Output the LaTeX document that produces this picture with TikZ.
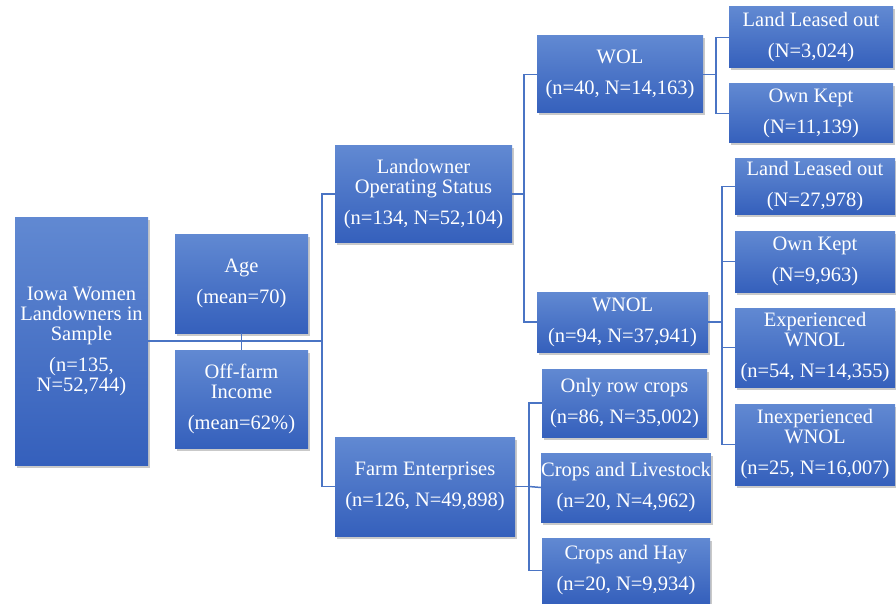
\documentclass[tikz,border=0pt]{standalone}
\usepackage{fontspec}
\setmainfont{Liberation Serif}
\usetikzlibrary{shadows}
\definecolor{boxtop}{HTML}{6189D2}
\definecolor{boxbot}{HTML}{3560BC}
\definecolor{linec}{HTML}{4A74C4}
\tikzset{
  box/.style={draw=none, top color=boxtop, bottom color=boxbot, text=white,
    align=center, inner sep=0pt,
    font=\fontsize{20.5}{20}\selectfont,
    drop shadow={shadow xshift=2pt, shadow yshift=-2.5pt, opacity=0.35, fill=black!60}},
  conn/.style={draw=linec, line width=1.5pt}
}
\newcommand{\gp}{\\[11pt]}
\begin{document}
\begin{tikzpicture}[x=1pt,y=-1pt]
\useasboundingbox (0,0) rectangle (896,604);
\fill[white] (0,0) rectangle (896,604);
% nodes
\node[box, minimum width=133pt, minimum height=248pt] (iowa) at (81.5,341) {Iowa Women\\Landowners in\\Sample\gp(n=135,\\N=52,744)};
\node[box, minimum width=133pt, minimum height=99pt] (age) at (241.5,283.5) {Age\gp(mean=70)};
\node[box, minimum width=133pt, minimum height=98pt] (off) at (241.5,399) {Off-farm\\Income\gp(mean=62\%)};
\node[box, minimum width=177pt, minimum height=96pt] (los) at (423.5,194) {Landowner\\Operating Status\gp(n=134, N=52,104)};
\node[box, minimum width=180pt, minimum height=99pt] (farm) at (425,486.5) {Farm Enterprises\gp(n=126, N=49,898)};
\node[box, minimum width=166pt, minimum height=77pt] (wol) at (620,74.5) {WOL\gp(n=40, N=14,163)};
\node[box, minimum width=171pt, minimum height=60pt] (wnol) at (622.5,322) {WNOL\gp(n=94, N=37,941)};
\node[box, minimum width=164pt, minimum height=61pt] (ll1) at (811,37.5) {Land Leased out\gp(N=3,024)};
\node[box, minimum width=164pt, minimum height=59pt] (ok1) at (811,113.5) {Own Kept\gp(N=11,139)};
\node[box, minimum width=160pt, minimum height=55pt] (ll2) at (815,186.5) {Land Leased out\gp(N=27,978)};
\node[box, minimum width=160pt, minimum height=61pt] (ok2) at (815,261.5) {Own Kept\gp(N=9,963)};
\node[box, minimum width=160pt, minimum height=79pt] (exp) at (815,347.5) {Experienced\\WNOL\gp(n=54, N=14,355)};
\node[box, minimum width=160pt, minimum height=81pt] (inexp) at (815,444.5) {Inexperienced\\WNOL\gp(n=25, N=16,007)};
\node[box, minimum width=165pt, minimum height=68pt] (orc) at (624.5,403) {Only row crops\gp(n=86, N=35,002)};
\node[box, minimum width=168pt, minimum height=69pt] (cl) at (626,487.5) {Crops and Livestock\gp(n=20, N=4,962)};
\node[box, minimum width=168pt, minimum height=65pt] (ch) at (626,570.5) {Crops and Hay\gp(n=20, N=9,934)};
% junctions
\coordinate (j1) at (322,341);
\coordinate (j2) at (524,194);
\coordinate (j3) at (716,74.5);
\coordinate (j4) at (722,322);
\coordinate (j5) at (529,486.5);
% connectors
\draw[conn] (iowa.east) -- (j1);
\draw[conn] (age.south) -- (off.north);
\draw[conn] (los.west) -| (j1) |- (farm.west);
\draw[conn] (los.east) -- (j2);
\draw[conn] (wol.west) -| (j2) |- (wnol.west);
\draw[conn] (wol.east) -- (j3);
\draw[conn] (ll1.west) -| (j3) |- (ok1.west);
\draw[conn] (wnol.east) -- (j4);
\draw[conn] (ll2.west) -| (j4) |- (inexp.west);
\draw[conn] (ok2.west) -- (ok2.west -| j4);
\draw[conn] (exp.west) -- (exp.west -| j4);
\draw[conn] (farm.east) -- (j5);
\draw[conn] (orc.west) -| (j5) |- (ch.west);
\draw[conn] (cl.west) -- (j5);
\end{tikzpicture}
\end{document}
